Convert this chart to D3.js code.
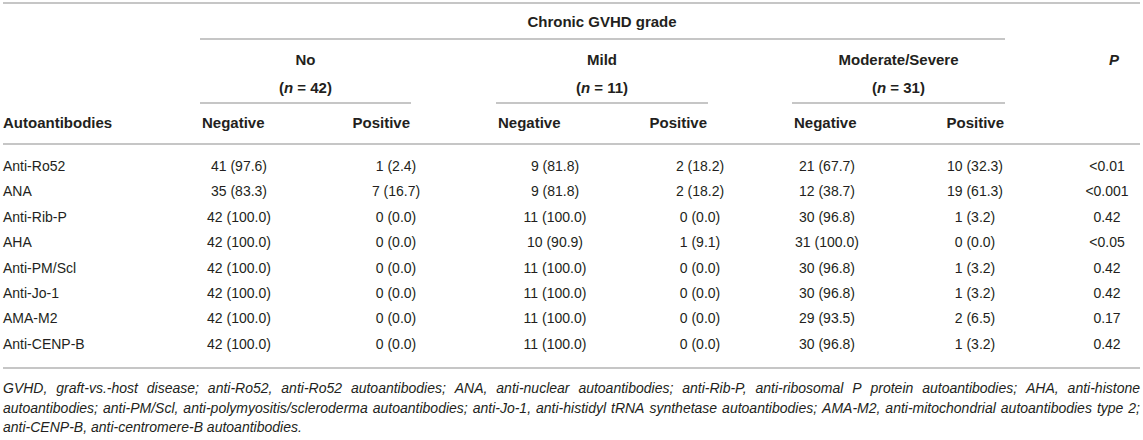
<!DOCTYPE html>
<html>
<head>
<meta charset="utf-8">
<script src="https://cdn.jsdelivr.net/npm/d3@7"></script>
<style>
  body { margin: 0; background: #fff; }
  svg text { font-family: "Liberation Sans", Arial, Helvetica, sans-serif; fill: #231f20; }
  .hd { font-weight: bold; font-size: 15px; }
  .cell { font-size: 14px; }
  .note { font-size: 14px; font-style: italic; }
</style>
</head>
<body>
<div id="chart"></div>
<script>
const W = 1143, H = 440;

// rows
const categories = ["Anti-Ro52", "ANA", "Anti-Rib-P", "AHA", "Anti-PM/Scl", "Anti-Jo-1", "AMA-M2", "Anti-CENP-B"];

// chronic GVHD groups
const groups = ["No", "Mild", "Moderate/Severe"];
const groupN = [42, 11, 31];

// counts and percentages per column
const noNeg = [41, 35, 42, 42, 42, 42, 42, 42];
const noNegPct = ["97.6", "83.3", "100.0", "100.0", "100.0", "100.0", "100.0", "100.0"];
const noPos = [1, 7, 0, 0, 0, 0, 0, 0];
const noPosPct = ["2.4", "16.7", "0.0", "0.0", "0.0", "0.0", "0.0", "0.0"];
const mildNeg = [9, 9, 11, 10, 11, 11, 11, 11];
const mildNegPct = ["81.8", "81.8", "100.0", "90.9", "100.0", "100.0", "100.0", "100.0"];
const mildPos = [2, 2, 0, 1, 0, 0, 0, 0];
const mildPosPct = ["18.2", "18.2", "0.0", "9.1", "0.0", "0.0", "0.0", "0.0"];
const modNeg = [21, 12, 30, 31, 30, 30, 29, 30];
const modNegPct = ["67.7", "38.7", "96.8", "100.0", "96.8", "96.8", "93.5", "96.8"];
const modPos = [10, 19, 1, 0, 1, 1, 2, 1];
const modPosPct = ["32.3", "61.3", "3.2", "0.0", "3.2", "3.2", "6.5", "3.2"];
const pValues = ["<0.01", "<0.001", "0.42", "<0.05", "0.42", "0.42", "0.17", "0.42"];

// footnote, one entry per printed line
const footnoteLines = [
    "GVHD, graft-vs.-host disease; anti-Ro52, anti-Ro52 autoantibodies; ANA, anti-nuclear autoantibodies; anti-Rib-P, anti-ribosomal P protein autoantibodies; AHA, anti-histone",
    "autoantibodies; anti-PM/Scl, anti-polymyositis/scleroderma autoantibodies; anti-Jo-1, anti-histidyl tRNA synthetase autoantibodies; AMA-M2, anti-mitochondrial autoantibodies type 2;",
    "anti-CENP-B, anti-centromere-B autoantibodies."
];

var svg = d3.select("#chart").append("svg")
            .attr("width", W)
            .attr("height", H);

//columns
const colKeys = ["noNeg", "noPos", "mildNeg", "mildPos", "modNeg", "modPos", "p"];
var x = d3.scaleOrdinal().domain(colKeys).range([239, 396, 555, 700, 827, 975, 1107]);
var y = d3.scalePoint().domain(categories).range([166, 344]);

// group spans (start, end) of the underline
var groupSpan = d3.scaleOrdinal().domain(groups).range([[200, 411], [496, 708], [792, 1005]]);

const lineColor = "#b3b3b3";
function hline(x1, x2, yy){
    svg.append("line")
        .attr("x1", x1).attr("x2", x2)
        .attr("y1", yy).attr("y2", yy)
        .attr("stroke", lineColor)
        .attr("stroke-width", 1.5);
}

//rules
hline(3, 1140, 3);
hline(200, 1005, 39);
groups.forEach(g => hline(groupSpan(g)[0], groupSpan(g)[1], 103));
hline(3, 1140, 144);
hline(3, 1140, 368);

//header text
svg.append("text").attr("class", "hd")
    .attr("x", 602).attr("y", 22).attr("dy", "0.35em")
    .style("text-anchor", "middle")
    .text("Chronic GVHD grade");

groups.forEach((g, i) => {
    var s = groupSpan(g);
    var cx = (s[0] + s[1]) / 2;
    svg.append("text").attr("class", "hd")
        .attr("x", cx).attr("y", 60).attr("dy", "0.35em")
        .style("text-anchor", "middle")
        .text(g);
    var t = svg.append("text").attr("class", "hd")
        .attr("x", cx).attr("y", 88).attr("dy", "0.35em")
        .style("text-anchor", "middle");
    t.append("tspan").text("(");
    t.append("tspan").style("font-style", "italic").text("n");
    t.append("tspan").text(" = " + groupN[i] + ")");

    svg.append("text").attr("class", "hd")
        .attr("x", s[0] + 2).attr("y", 123).attr("dy", "0.35em")
        .text("Negative");
    svg.append("text").attr("class", "hd")
        .attr("x", s[1] - 1).attr("y", 123).attr("dy", "0.35em")
        .style("text-anchor", "end")
        .text("Positive");
});

svg.append("text").attr("class", "hd")
    .attr("x", 3).attr("y", 123).attr("dy", "0.35em")
    .text("Autoantibodies");

svg.append("text").attr("class", "hd")
    .attr("x", 1114).attr("y", 60).attr("dy", "0.35em")
    .style("text-anchor", "middle")
    .style("font-style", "italic")
    .text("P");

//body
const cols = {
    noNeg: categories.map((c, i) => noNeg[i] + " (" + noNegPct[i] + ")"),
    noPos: categories.map((c, i) => noPos[i] + " (" + noPosPct[i] + ")"),
    mildNeg: categories.map((c, i) => mildNeg[i] + " (" + mildNegPct[i] + ")"),
    mildPos: categories.map((c, i) => mildPos[i] + " (" + mildPosPct[i] + ")"),
    modNeg: categories.map((c, i) => modNeg[i] + " (" + modNegPct[i] + ")"),
    modPos: categories.map((c, i) => modPos[i] + " (" + modPosPct[i] + ")"),
    p: pValues
};

var rows = svg.append("g").selectAll("g")
    .data(categories)
    .join("g")
    .attr("transform", d => "translate(0," + y(d) + ")");

rows.append("text").attr("class", "cell")
    .attr("x", 3).attr("dy", "0.35em")
    .text(d => d);

colKeys.forEach(k => {
    rows.append("text").attr("class", "cell")
        .attr("x", x(k)).attr("dy", "0.35em")
        .style("text-anchor", "middle")
        .text((d, i) => cols[k][i]);
});

//footnote, justified except the last line
var noteLeft = 3, noteRight = 1140, lineYs = [388, 408, 427];
function wlen(s){
    var m = svg.append("text").attr("class", "note").text(s);
    var l = m.node().getComputedTextLength();
    m.remove();
    return l;
}
var spaceW = wlen("a a") - wlen("aa");

footnoteLines.forEach((line, li) => {
    var ln = line.split(" ");
    var widths = ln.map(wlen);
    var total = d3.sum(widths);
    var last = li === footnoteLines.length - 1;
    var gap = last ? spaceW : Math.max(1, (noteRight - noteLeft - total) / (ln.length - 1));
    var cx = noteLeft;
    ln.forEach((w, wi) => {
        svg.append("text").attr("class", "note")
            .attr("x", cx).attr("y", lineYs[li]).attr("dy", "0.35em")
            .text(w);
        cx += widths[wi] + gap;
    });
});
</script>
</body>
</html>
